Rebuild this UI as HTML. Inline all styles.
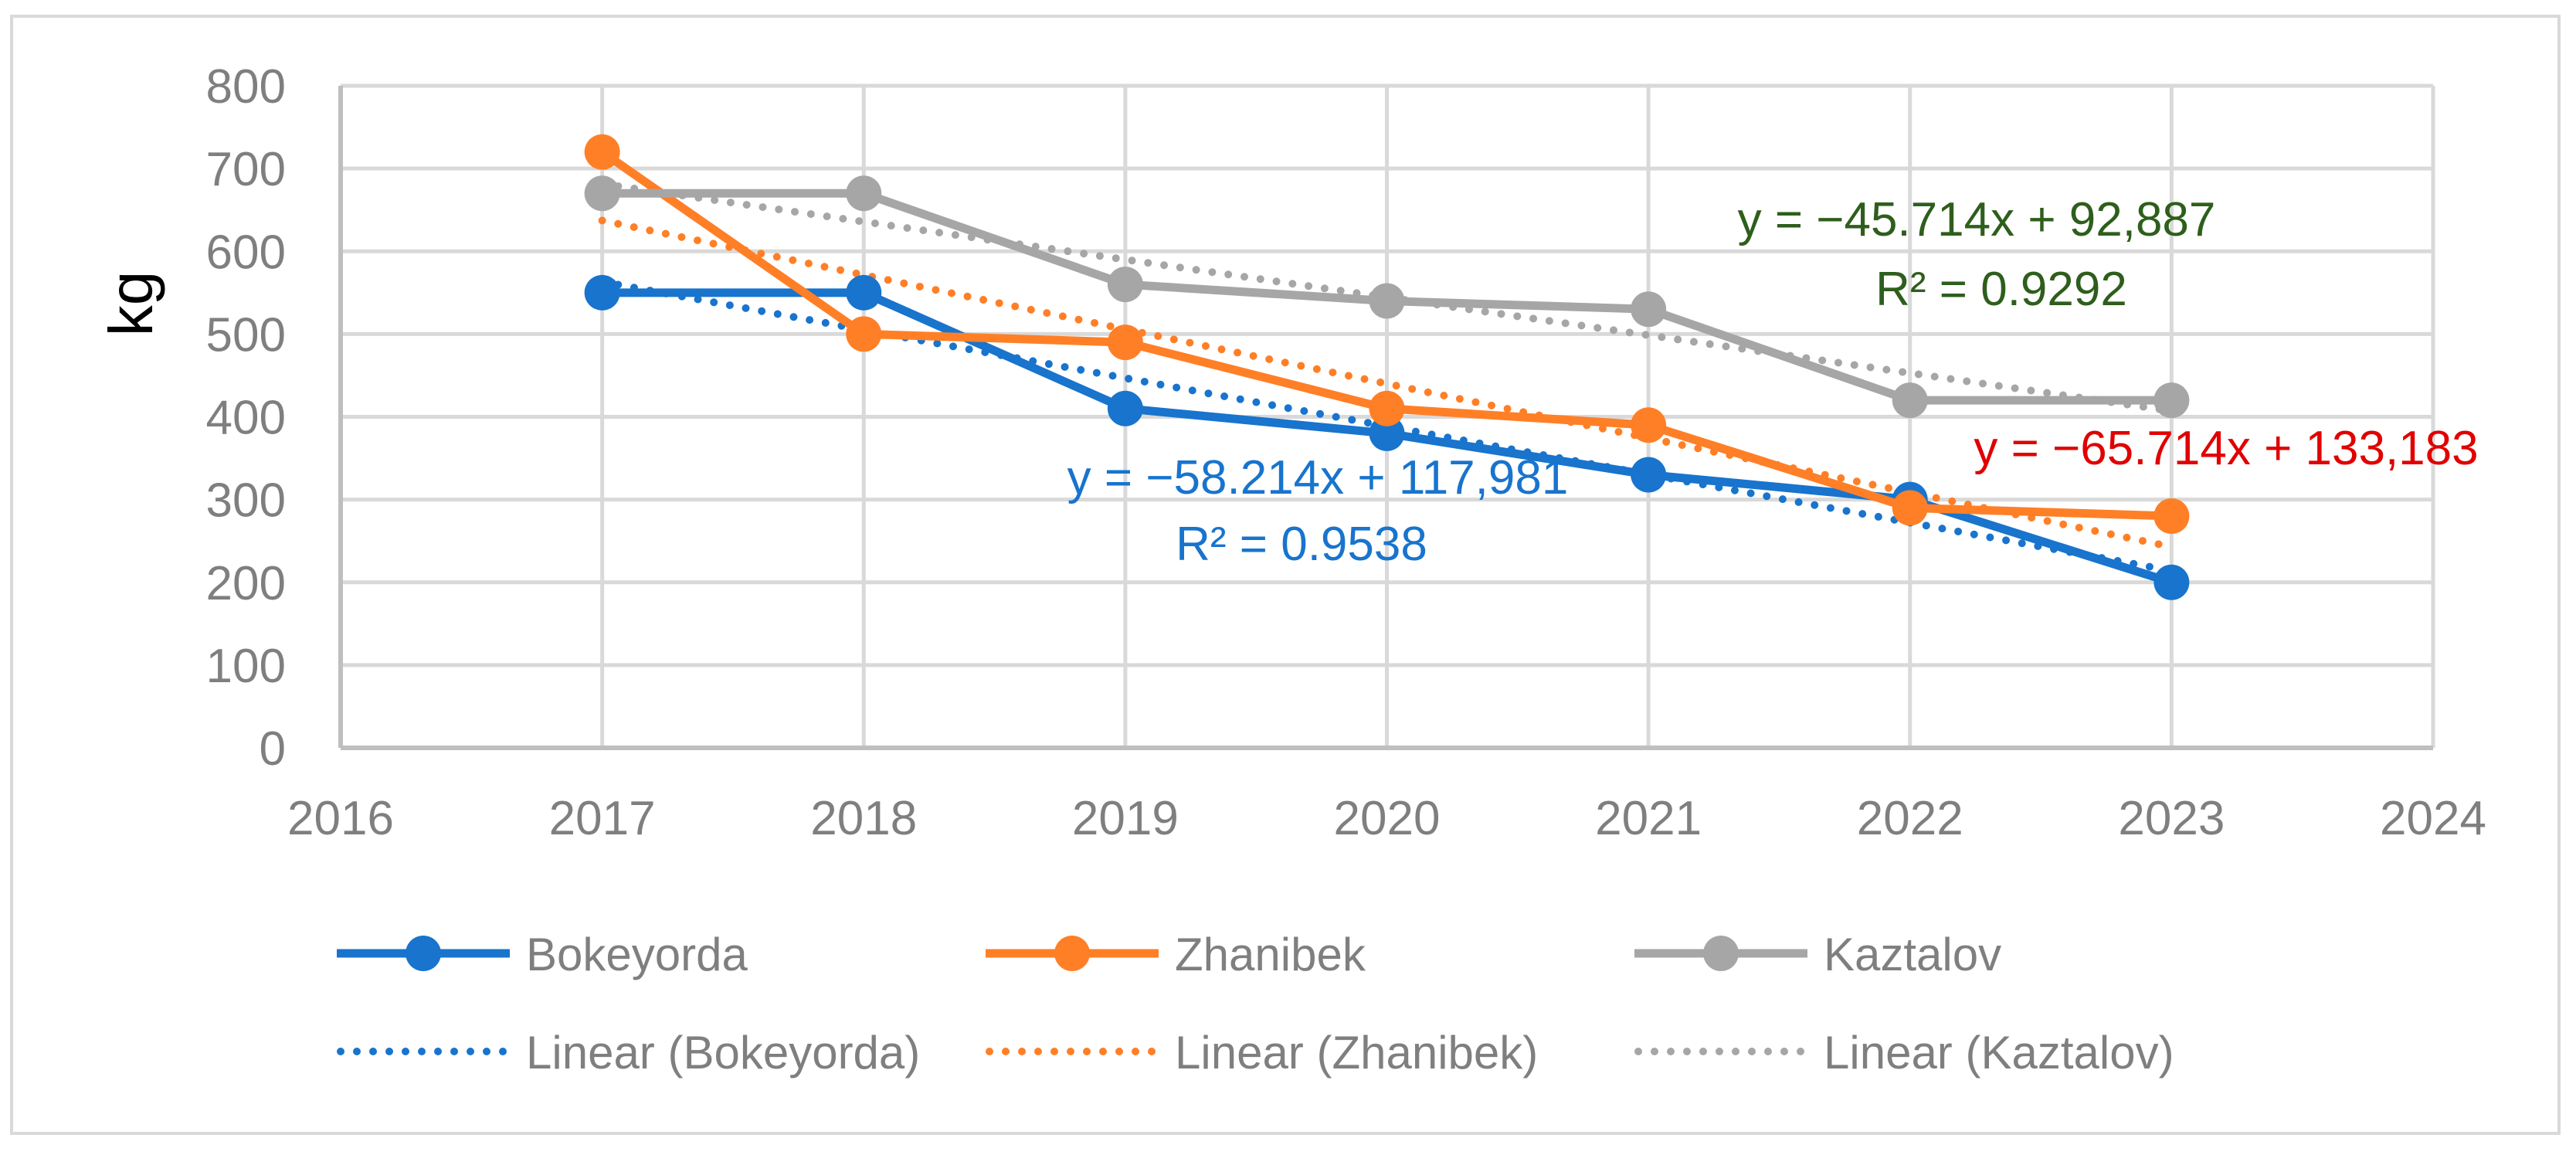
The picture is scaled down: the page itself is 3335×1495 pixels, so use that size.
<!DOCTYPE html>
<html><head><meta charset="utf-8">
<style>
html,body{margin:0;padding:0;background:#fff;}
svg{display:block;font-family:"Liberation Sans",sans-serif;}
</style></head>
<body>
<svg id="chart" width="3335" height="1495" viewBox="0 0 3335 1495">
<rect x="15" y="21" width="3298" height="1446" fill="#fff" stroke="#d9d9d9" stroke-width="4"/>
<g id="grid"></g>
<g id="axes"></g>
<g id="series"></g>
<text x="0" y="0" transform="translate(197,393) rotate(-90)" text-anchor="middle" font-size="80" fill="#000">kg</text>
<g font-size="62" text-anchor="middle">
<text x="2559" y="305" fill="#2e5e1c">y = −45.714x + 92,887</text>
<text x="2591" y="395" fill="#2e5e1c">R² = 0.9292</text>
<text x="1706" y="639" fill="#1874cd">y = −58.214x + 117,981</text>
<text x="1685" y="725" fill="#1874cd">R² = 0.9538</text>
<text x="2882" y="601" fill="#e00000">y = −65.714x + 133,183</text>
</g>
<g id="legend"></g>
</svg>
<script>
const years = [2017, 2018, 2019, 2020, 2021, 2022, 2023];
const bokeyorda = [550, 550, 410, 380, 330, 300, 200];
const zhanibek = [720, 500, 490, 410, 390, 290, 280];
const kaztalov = [670, 670, 560, 540, 530, 420, 420];
const yTicks = [0, 100, 200, 300, 400, 500, 600, 700, 800];
const xTicks = [2016, 2017, 2018, 2019, 2020, 2021, 2022, 2023, 2024];
const seriesNames = ["Bokeyorda", "Zhanibek", "Kaztalov"];

const NS = "http://www.w3.org/2000/svg";
const X0 = 441, X1 = 3150, Y0 = 968, Y1 = 111;
const xs = v => X0 + (v - 2016) / 8 * (X1 - X0);
const ys = v => Y0 - v / 800 * (Y0 - Y1);
function mk(tag, attrs, parent) {
  const e = document.createElementNS(NS, tag);
  for (const k in attrs) e.setAttribute(k, attrs[k]);
  parent.appendChild(e);
  return e;
}
const grid = document.getElementById('grid');
const axes = document.getElementById('axes');
yTicks.forEach(t => {
  if (t > 0) {
    const l = mk('line', {x1: X0, x2: X1, y1: ys(t), y2: ys(t), stroke: '#d9d9d9', 'stroke-width': 5}, grid);
    
    
  }
  const tx = mk('text', {x: 370, y: ys(t) + 22, 'text-anchor': 'end', 'font-size': 62, fill: '#7f7f7f'}, axes);
  tx.textContent = t;
  
  
});
xTicks.forEach(t => {
  if (t > 2016) {
    const l = mk('line', {x1: xs(t), x2: xs(t), y1: Y0, y2: Y1, stroke: '#d9d9d9', 'stroke-width': 5}, grid);
    
    
  }
  const tx = mk('text', {x: xs(t), y: 1080, 'text-anchor': 'middle', 'font-size': 62, fill: '#7f7f7f'}, axes);
  tx.textContent = t;
  
  
});
const ax1 = mk('line', {x1: X0, x2: X0, y1: Y1, y2: Y0, stroke: '#bfbfbf', 'stroke-width': 6}, axes);


const ax2 = mk('line', {x1: X0, x2: X1, y1: Y0, y2: Y0, stroke: '#bfbfbf', 'stroke-width': 6}, axes);



const colors = ['#1874cd', '#ff7f27', '#a6a6a6'];
const data = [bokeyorda, zhanibek, kaztalov];
const sg = document.getElementById('series');
function fit(vals) {
  const n = vals.length, xsV = vals.map((_, i) => i + 1);
  const mx = xsV.reduce((a, b) => a + b) / n, my = vals.reduce((a, b) => a + b) / n;
  let num = 0, den = 0;
  xsV.forEach((x, i) => { num += (x - mx) * (vals[i] - my); den += (x - mx) ** 2; });
  const s = num / den;
  return [my + s * (1 - mx), my + s * (n - mx)];
}
data.forEach((vals, k) => {
  const [a, b] = fit(vals);
  const l = mk('line', {x1: xs(years[0]), y1: ys(a), x2: xs(years[years.length - 1]), y2: ys(b),
    stroke: colors[k], 'stroke-width': 10, 'stroke-linecap': 'round', 'stroke-dasharray': '0 21'}, sg);
  
  
});
data.forEach((vals, k) => {
  const pts = vals.map((v, i) => xs(years[i]) + ',' + ys(v)).join(' ');
  const pl = mk('polyline', {points: pts, fill: 'none', stroke: colors[k], 'stroke-width': 11, 'stroke-linejoin': 'round'}, sg);
  
  
  vals.forEach((v, i) => {
    const c = mk('circle', {cx: xs(years[i]), cy: ys(v), r: 23, fill: colors[k]}, sg);
    
    
  });
});
const lg = document.getElementById('legend');
const lx = [436, 1276, 2116];
seriesNames.forEach((nm, k) => {
  const y1 = 1234, y2 = 1361;
  const l = mk('line', {x1: lx[k], x2: lx[k] + 224, y1: y1, y2: y1, stroke: colors[k], 'stroke-width': 11}, lg);
  
  
  const c = mk('circle', {cx: lx[k] + 112, cy: y1, r: 23, fill: colors[k]}, lg);
  
  
  const t = mk('text', {x: lx[k] + 245, y: y1 + 22, 'font-size': 60, fill: '#7f7f7f'}, lg);
  t.textContent = nm;
  
  
  const d = mk('line', {x1: lx[k] + 5, x2: lx[k] + 224, y1: y2, y2: y2, stroke: colors[k], 'stroke-width': 10, 'stroke-linecap': 'round', 'stroke-dasharray': '0 21'}, lg);
  
  
  const t2 = mk('text', {x: lx[k] + 245, y: y2 + 22, 'font-size': 60, fill: '#7f7f7f'}, lg);
  t2.textContent = 'Linear (' + nm + ')';
  
  
});
</script>
</body></html>
